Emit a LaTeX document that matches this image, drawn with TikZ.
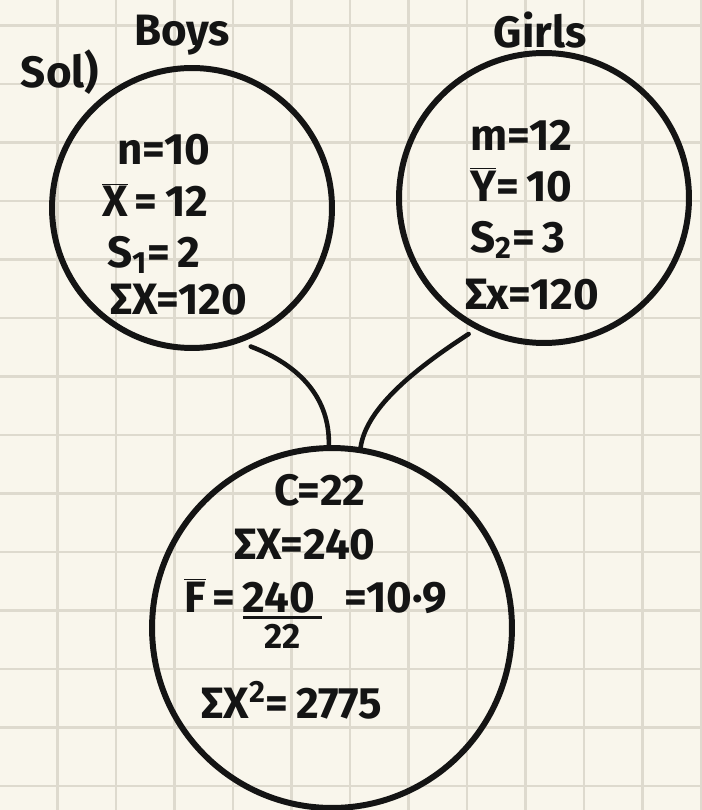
\documentclass[tikz,border=0pt]{standalone}
\usepackage{fontspec}
\setmainfont{Fira Sans}
\definecolor{paper}{RGB}{249,246,236}
\definecolor{gridline}{RGB}{222,218,206}
\definecolor{ink}{RGB}{20,20,20}

\tikzset{
  setcircle/.style={circle,draw=ink,line width=3.4pt,inner sep=0pt},
  link/.style={draw=ink,line width=2.6pt,line cap=round},
  hand/.style={text=ink,inner sep=1pt,font=\fontsize{25}{29}\selectfont\bfseries},
}

\begin{document}
\begin{tikzpicture}[x=0.02cm,y=-0.02cm]
\fill[paper] (0,0) rectangle (701,810);
\useasboundingbox (0,0) rectangle (701,810);
% grid paper
\foreach \i in {0,...,11} {
  \draw[gridline,line width=1.2pt] (57.5+58.5*\i,0) -- (57.5+58.5*\i,810);
}
\foreach \j in {0,...,13} {
  \draw[gridline,line width=1.2pt] (0,25.5+58.5*\j) -- (701,25.5+58.5*\j);
}
% the three sets
\node[setcircle,minimum size=5.6cm,outer sep=6pt] (boys) at (192,208) {};
\node[setcircle,minimum size=5.8cm,outer sep=6pt] (girls) at (544,198) {};
\node[setcircle,minimum size=7.2cm] (pool) at (332,628) {};
\draw[link] (boys.-67) .. controls (302,366) and (330,400) .. (pool.91);
\draw[link] (girls.-119) .. controls (410,372) and (366,410) .. (pool.81);
% headings
\node[hand] (sol) at (60,72) {Sol)};
\node[hand] (boyslabel) at (182,35) {Boys};
\node[hand] (girlslabel) at (540,30) {Girls};
% boys
\node[hand,anchor=west] (n) at (115,150) {n=10};
\node[hand,anchor=west] (xbar) at (100,200) {$\overline{\hbox{X}}$\,=\,12};
\node[hand,anchor=west] (sone) at (105,255) {S\textsubscript{1}=\,2};
\node[hand,anchor=west] (sumx) at (108,300) {ΣX=120};
% girls
\node[hand,anchor=west] (m) at (468,135) {m=12};
\node[hand,anchor=west] (ybar) at (468,185) {$\overline{\hbox{Y}}$=\,10};
\node[hand,anchor=west] (stwo) at (468,240) {S\textsubscript{2}=\,3};
\node[hand,anchor=west] (sumy) at (463,295) {Σx=120};
% pooled
\node[hand] (c) at (320,490) {C=22};
\node[hand] (sumall) at (305,545) {ΣX=240};
\node[hand,anchor=base west] (fbar) at (182,612) {$\overline{\hbox{F}}$\,=\,\vtop{\halign{\hfil#\hfil\cr 240\,\cr
  \noalign{\kern2pt\hrule height 1.5pt\kern3pt}
  \fontsize{20}{22}\selectfont 22\cr}}\,\,\,=10·9};
\node[hand] (sumsq) at (292,700) {ΣX\textsuperscript{2}=\,2775};
\end{tikzpicture}
\end{document}
